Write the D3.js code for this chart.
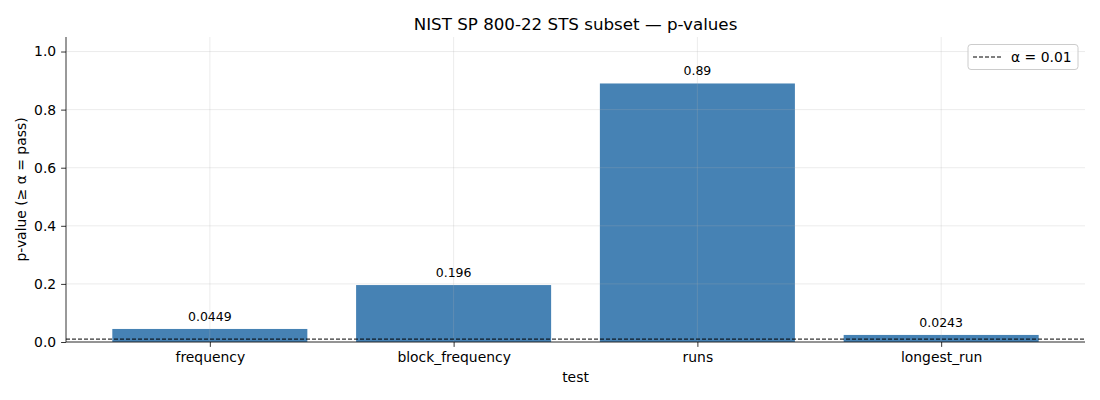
<!DOCTYPE html>
<html><head><meta charset="utf-8">
<script src="https://cdn.jsdelivr.net/npm/d3@7"></script>
<style>body{margin:0;background:#fff;font-family:"DejaVu Sans",sans-serif;}</style>
</head><body>
<svg id="c" width="1100" height="400"></svg>
<script>
const categories = ["frequency","block_frequency","runs","longest_run"];
const pvalues = [0.0449, 0.196, 0.89, 0.0243];
const valueLabels = ["0.0449","0.196","0.89","0.0243"];
const yTicks = [0.0,0.2,0.4,0.6,0.8,1.0];
const alpha = 0.01;

const svg = d3.select("#c");
const L=66, R=1085, T=37, B=342;
const x = d3.scaleLinear().domain([-0.59, 3.59]).range([L, R]);
const y = d3.scaleLinear().domain([0, 1.05]).range([B, T]);
const bw = 0.8;

// bars
svg.append("g").selectAll("rect").data(pvalues).join("rect")
  .attr("x",(d,i)=>x(i-bw/2)).attr("width",(d,i)=>x(i+bw/2)-x(i-bw/2))
  .attr("y",d=>y(d)).attr("height",d=>y(0)-y(d)).attr("fill","#4682b4");

// grid
const g = svg.append("g").attr("stroke","#b0b0b0").attr("stroke-opacity",0.3).attr("stroke-width",0.8);
yTicks.forEach(t=>g.append("line").attr("x1",L).attr("x2",R).attr("y1",y(t)).attr("y2",y(t)));
categories.forEach((c,i)=>g.append("line").attr("x1",x(i)).attr("x2",x(i)).attr("y1",T).attr("y2",B));

// alpha line
svg.append("line").attr("x1",L).attr("x2",R).attr("y1",y(alpha)).attr("y2",y(alpha))
  .attr("stroke","#000").attr("stroke-width",1).attr("stroke-dasharray","4,2");

// value labels
svg.append("g").selectAll("text").data(pvalues).join("text")
  .attr("x",(d,i)=>x(i)).attr("y",d=>y(d)-8).attr("text-anchor","middle")
  .attr("font-size",12.5).attr("fill","#000").text((d,i)=>valueLabels[i]);

// axes
const yAxis = d3.axisLeft(y).tickValues(yTicks).tickFormat(d3.format(".1f")).tickSize(4.9).tickPadding(4.9);
const ya = svg.append("g").attr("transform",`translate(${L},0)`).call(yAxis);
const xAxis = d3.axisBottom(x).tickValues(d3.range(categories.length)).tickFormat(i=>categories[i]).tickSize(4.9).tickPadding(4.9);
const xa = svg.append("g").attr("transform",`translate(0,${B})`).call(xAxis);
[ya,xa].forEach(a=>{a.selectAll("text").attr("font-size",13.9).attr("fill","#000").attr("font-family","DejaVu Sans");
  a.selectAll("line").attr("stroke","#000").attr("stroke-width",0.8);
  a.select(".domain").attr("stroke","#000").attr("stroke-width",0.8);});
ya.select(".domain").attr("d",`M0,${B}V${T}`);
xa.select(".domain").attr("d",`M${L},0H${R}`);

// titles
svg.append("text").attr("x",(L+R)/2).attr("y",30).attr("text-anchor","middle").attr("font-size",16.7).text("NIST SP 800-22 STS subset — p-values");
svg.append("text").attr("x",(L+R)/2).attr("y",382).attr("text-anchor","middle").attr("font-size",13.9).text("test");
svg.append("text").attr("transform",`translate(26,${(T+B)/2}) rotate(-90)`).attr("text-anchor","middle").attr("font-size",13.9).text("p-value (≥ α = pass)");

// legend
const lg = svg.append("g");
lg.append("rect").attr("x",968).attr("y",44.5).attr("width",110).attr("height",25).attr("rx",3)
  .attr("fill","#fff").attr("fill-opacity",0.8).attr("stroke","#ccc");
lg.append("line").attr("x1",973).attr("x2",1002).attr("y1",57).attr("y2",57).attr("stroke","#000").attr("stroke-dasharray","4,2");
lg.append("text").attr("x",1011).attr("y",61.8).attr("font-size",13.9).text("α = 0.01");
</script>
</body></html>
